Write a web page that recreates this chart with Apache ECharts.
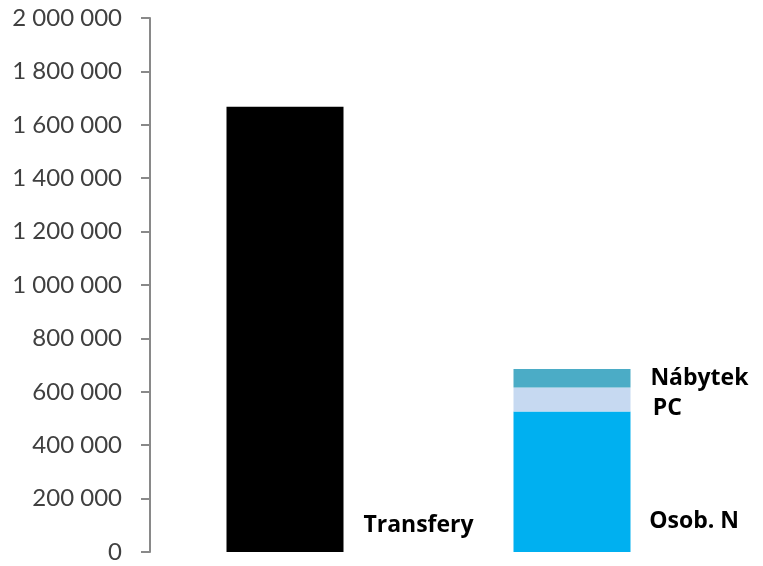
<!DOCTYPE html>
<html>
<head>
<meta charset="utf-8">
<script src="https://cdn.jsdelivr.net/npm/echarts@6/dist/echarts.min.js"></script>
<style>html,body{margin:0;padding:0;background:#fff;}#c{width:763px;height:566px;}</style>
</head>
<body>
<div id="c"></div>
<script>
const categories = ['Transfery', 'Výdaje'];
const transfery = [1668000, '-'];
const osobN = ['-', 526000];
const pc = ['-', 90000];
const nabytek = ['-', 69000];
const yMin = 0, yMax = 2000000, yStep = 200000;

function fmt(v) {
  return String(v).replace(/\B(?=(\d{3})+(?!\d))/g, ' ');
}
const labelFont = {fontFamily: 'Open Sans', fontWeight: 'bold', fontSize: 23, color: '#000'};

const chart = echarts.init(document.getElementById('c'), null, {renderer: 'canvas'});
chart.setOption({
  animation: false,
  grid: {left: 141.5, right: 47.5, top: 18, bottom: 14, containLabel: false},
  xAxis: {
    type: 'category', data: categories,
    axisLine: {show: false}, axisTick: {show: false}, axisLabel: {show: false}
  },
  yAxis: {
    type: 'value', min: yMin, max: yMax, interval: yStep, offset: -8.5,
    axisLine: {show: true, lineStyle: {color: '#898989', width: 2}},
    axisTick: {show: true, length: 9, lineStyle: {color: '#898989', width: 2}},
    splitLine: {show: false},
    axisLabel: {margin: 28, fontFamily: 'Lato', fontSize: 24, color: '#404040', formatter: fmt}
  },
  series: [
    {name: 'Transfery', type: 'bar', stack: 's', barWidth: 117, data: transfery,
     itemStyle: {color: '#000000'},
     label: Object.assign({show: true, position: ['117%', '94%'], align: 'left', verticalAlign: 'middle', formatter: 'Transfery'}, labelFont)},
    {name: 'Osob. N', type: 'bar', stack: 's', barWidth: 117, data: osobN,
     itemStyle: {color: '#00B0F0'},
     label: Object.assign({show: true, position: ['116%', '78%'], align: 'left', verticalAlign: 'middle', formatter: 'Osob. N'}, labelFont)},
    {name: 'PC', type: 'bar', stack: 's', barWidth: 117, data: pc,
     itemStyle: {color: '#C6D9F1'},
     label: Object.assign({show: true, position: ['119%', '88%'], align: 'left', verticalAlign: 'middle', formatter: 'PC'}, labelFont)},
    {name: 'Nábytek', type: 'bar', stack: 's', barWidth: 117, data: nabytek,
     itemStyle: {color: '#4BACC6'},
     label: Object.assign({show: true, position: ['117%', '50%'], align: 'left', verticalAlign: 'middle', formatter: 'Nábytek'}, labelFont)}
  ]
});
</script>
</body>
</html>
